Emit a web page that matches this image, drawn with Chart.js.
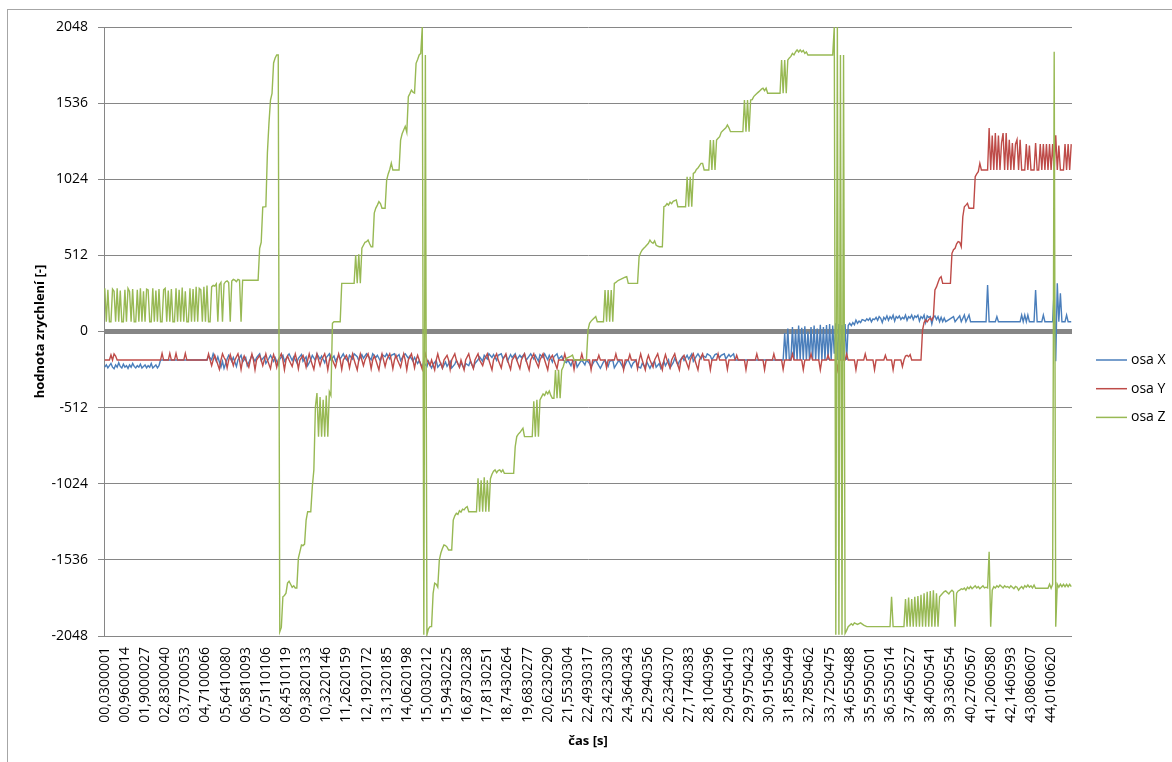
<!DOCTYPE html>
<html>
<head>
    <title>osa X / Y / Z</title>
    <style>
        body { margin: 0; background: #fff; overflow: hidden; }
        .frame { position: absolute; left: 7px; top: 9px; width: 1300px; height: 900px; border: 1px solid #a6a6a6; }
        #accChart { position: absolute; left: 0; top: 0; }
    </style>
</head>
<body>
    <div class="frame"></div>
    <canvas id="accChart" width="1172" height="762"></canvas>

    <script src="https://cdn.jsdelivr.net/npm/chart.js"></script>
    <script>
        // printed category labels (every 13th sample)
        var tickLabels = ['00,0300001','00,9600014','01,9000027','02,8300040','03,7700053','04,7100066','05,6410080','06,5810093',
            '07,5110106','08,4510119','09,3820133','10,3220146','11,2620159','12,1920172','13,1320185','14,0620198',
            '15,0030212','15,9430225','16,8730238','17,8130251','18,7430264','19,6830277','20,6230290','21,5530304',
            '22,4930317','23,4230330','24,3640343','25,2940356','26,2340370','27,1740383','28,1040396','29,0450410',
            '29,9750423','30,9150436','31,8550449','32,7850462','33,7250475','34,6550488','35,5950501','36,5350514',
            '37,4650527','38,4050541','39,3360554','40,2760567','41,2060580','42,1460593','43,0860607','44,0160620'];
        var labelStep = 13;
        var sampleCount = 625;
        var seriesNames = ['osa X', 'osa Y', 'osa Z'];

        // [sample index, value]
        var osaX = [[0,-240],[1,-225],[2,-245],[3,-230],[4,-215],[5,-240],[6,-250],[7,-225],[8,-240],[9,-210],[10,-235],[11,-245],
            [12,-220],[13,-240],[14,-230],[15,-248],[16,-225],[17,-240],[18,-215],[19,-235],[20,-245],[21,-230],[22,-240],[23,-220],
            [24,-245],[25,-235],[26,-225],[27,-245],[28,-230],[29,-240],[30,-215],[31,-245],[32,-235],[33,-225],[34,-245],[35,-230],
            [36,-192],[66,-192],[67,-165],[69,-190],[70,-150],[72,-200],[73,-170],[75,-240],[76,-200],[77,-248],[79,-185],[80,-160],
            [82,-200],[83,-175],[85,-235],[86,-190],[88,-160],[89,-205],[91,-175],[92,-230],[94,-185],[95,-160],[97,-200],[98,-175],
            [100,-150],[101,-195],[103,-170],[104,-215],[106,-180],[107,-160],[109,-200],[110,-175],[112,-225],[113,-185],[115,-160],
            [116,-200],[118,-165],[119,-150],[121,-195],[122,-170],[124,-210],[125,-180],[127,-155],[128,-200],[130,-170],[131,-230],
            [133,-190],[134,-160],[136,-195],[137,-150],[139,-185],[140,-165],[142,-210],[143,-175],[145,-150],[146,-190],[148,-165],
            [149,-200],[151,-160],[152,-185],[154,-150],[155,-175],[157,-200],[158,-160],[160,-185],[161,-150],[163,-170],[164,-195],
            [166,-155],[167,-180],[169,-150],[170,-165],[172,-190],[173,-150],[175,-175],[176,-160],[178,-200],[179,-155],[181,-170],
            [182,-150],[184,-185],[185,-160],[187,-150],[188,-175],[190,-155],[191,-195],[193,-160],[194,-150],[196,-180],[197,-165],
            [199,-200],[200,-175],[202,-215],[203,-195],[205,-240],[206,-210],[208,-235],[209,-200],[211,-245],[212,-220],[214,-195],
            [215,-240],[217,-215],[218,-248],[220,-205],[221,-235],[223,-200],[224,-245],[226,-220],[227,-195],[229,-240],[230,-210],
            [232,-248],[233,-215],[235,-230],[236,-200],[238,-245],[239,-215],[241,-190],[242,-170],[244,-200],[245,-160],[247,-185],
            [248,-150],[250,-175],[251,-155],[253,-195],[254,-160],[256,-150],[257,-180],[259,-160],[260,-200],[262,-155],[263,-175],
            [265,-150],[266,-190],[268,-160],[269,-175],[271,-150],[272,-195],[274,-165],[275,-150],[277,-185],[278,-160],[280,-200],
            [281,-155],[283,-175],[284,-150],[286,-190],[287,-160],[289,-205],[290,-170],[292,-150],[293,-185],[295,-165],[296,-192],
            [298,-210],[299,-192],[301,-230],[302,-200],[304,-192],[305,-240],[307,-205],[308,-192],[310,-225],[311,-192],[313,-215],
            [314,-240],[316,-200],[317,-192],[319,-230],[320,-248],[322,-205],[323,-192],[325,-235],[326,-200],[328,-192],[329,-245],
            [331,-210],[332,-192],[334,-230],[335,-248],[337,-200],[338,-192],[340,-240],[341,-215],[343,-192],[344,-235],[346,-245],
            [347,-215],[349,-240],[350,-205],[352,-248],[353,-225],[355,-200],[356,-240],[358,-215],[359,-248],[361,-200],[362,-230],
            [364,-190],[365,-245],[367,-210],[368,-180],[370,-225],[371,-200],[373,-170],[374,-195],[376,-160],[377,-185],[379,-150],
            [380,-200],[382,-165],[383,-150],[385,-185],[386,-160],[388,-175],[389,-150],[391,-165],[392,-190],[394,-155],[395,-150],
            [397,-175],[398,-160],[400,-150],[401,-185],[403,-155],[404,-170],[406,-150],[407,-192],[438,-192],
            [439,-10],[440,-192],[441,20],[442,-192],[443,-192],[444,30],[445,-192],[446,10],[447,-192],[448,40],[449,-192],[450,25],
            [451,-192],[452,35],[453,-192],[454,0],[455,-192],[456,30],[457,-192],[458,40],[459,-192],[460,20],[461,-192],[462,45],
            [463,-192],[464,30],[465,-192],[466,44],[467,-192],[468,50],[469,-192],[470,40],[471,-150],[472,55],[473,-192],[474,50],
            [475,-192],[476,44],[477,-192],[478,50],[479,-192],[480,40],[481,55],[482,40],[483,60],[484,45],[485,77],[486,55],[487,70],
            [488,60],[489,80],[490,77],[491,70],[492,85],[493,75],[494,90],[495,65],[496,85],[497,80],[498,95],[499,75],[500,100],
            [501,89],[502,60],[503,95],[504,80],[505,105],[506,75],[507,100],[508,85],[509,110],[510,70],[511,100],[512,90],[513,105],
            [514,80],[515,95],[516,85],[517,110],[518,75],[519,100],[520,90],[521,111],[522,80],[523,105],[524,95],[525,110],[526,70],
            [527,100],[528,88],[529,111],[530,60],[531,105],[532,95],[533,100],[534,50],[535,95],[536,105],[537,80],[538,100],[539,66],
            [540,95],[541,66],[542,90],[543,66],[548,100],[549,66],[552,105],[553,66],[555,111],[556,66],[558,111],[559,66],[569,66],
            [570,313],[571,66],[575,66],[576,100],[577,66],[591,66],[592,111],[593,66],[594,111],[595,66],[596,111],[597,66],[600,66],
            [601,279],[602,66],[605,66],[606,111],[607,66],[612,66],[613,290],[614,-200],[615,324],[616,66],[617,257],[618,66],[620,66],
            [621,111],[622,66],[624,66]];

        var osaY = [[0,-192],[3,-192],[4,-158],[5,-192],[6,-150],[7,-165],[8,-192],[36,-192],[37,-147],[38,-192],[41,-192],[42,-147],
            [43,-192],[45,-192],[46,-147],[47,-192],[51,-192],[52,-147],[53,-192],[66,-192],
            [67,-150],[68,-192],[69,-230],[70,-192],[71,-160],[72,-192],[74,-255],[75,-192],[76,-150],[77,-175],[78,-192],[79,-245],
            [80,-192],[81,-155],[82,-192],[83,-230],[84,-192],[86,-150],[87,-192],[88,-255],[89,-192],[90,-165],[91,-192],[93,-240],
            [94,-192],[95,-150],[96,-192],[97,-258],[98,-192],[100,-160],[101,-192],[102,-230],[103,-192],[104,-150],[105,-192],
            [107,-250],[108,-192],[109,-155],[110,-192],[111,-240],[112,-192],[114,-150],[115,-192],[116,-258],[117,-192],[118,-165],
            [119,-192],[121,-235],[122,-192],[123,-150],[124,-192],[125,-250],[126,-192],[128,-160],[129,-192],[130,-240],[131,-192],
            [132,-150],[133,-192],[135,-255],[136,-192],[137,-150],[138,-192],[139,-230],[140,-192],[142,-150],[143,-192],[144,-258],
            [145,-192],[146,-160],[147,-192],[149,-240],[150,-192],[151,-150],[152,-192],[153,-255],[154,-192],[156,-160],[157,-192],
            [158,-245],[159,-192],[160,-150],[161,-192],[163,-258],[164,-192],[165,-150],[166,-192],[167,-230],[168,-192],[170,-150],
            [171,-192],[172,-250],[173,-192],[174,-165],[175,-192],[177,-258],[178,-192],[179,-150],[180,-192],[181,-235],[182,-192],
            [184,-150],[185,-192],[186,-250],[187,-192],[188,-160],[189,-192],[191,-240],[192,-192],[193,-150],[194,-192],[195,-258],
            [196,-192],[198,-150],[199,-192],[200,-245],[201,-192],[202,-160],[203,-192],[205,-255],[206,-192],[207,-150],[208,-192],
            [210,-230],[211,-192],[213,-258],[214,-192],[215,-150],[216,-192],[218,-245],[219,-192],[221,-160],[222,-192],[223,-255],
            [224,-192],[226,-150],[227,-192],[229,-240],[230,-192],[232,-258],[233,-192],[235,-150],[236,-192],[238,-250],[239,-192],
            [241,-150],[242,-192],[244,-230],[245,-192],[247,-150],[248,-192],[250,-258],[251,-192],[253,-150],[254,-192],[256,-245],
            [257,-192],[259,-150],[260,-192],[262,-255],[263,-192],[265,-160],[266,-192],[268,-250],[269,-192],[271,-150],[272,-192],
            [274,-258],[275,-192],[277,-150],[278,-192],[280,-240],[281,-192],[283,-150],[284,-192],[286,-258],[287,-192],[289,-160],
            [290,-192],[292,-250],[293,-192],[296,-192],[297,-150],[298,-192],[302,-192],[303,-255],[304,-192],[307,-192],[308,-150],
            [309,-192],[313,-192],[314,-258],[315,-192],[318,-192],[319,-160],[320,-192],[323,-192],[324,-245],[325,-192],[329,-192],
            [330,-150],[331,-192],[334,-192],[335,-258],[336,-192],[338,-192],[339,-155],[340,-192],[343,-192],[344,-250],[345,-192],
            [346,-150],[347,-192],[349,-258],[350,-192],[351,-160],[352,-192],[354,-240],[355,-192],[357,-150],[358,-192],[360,-258],
            [361,-192],[362,-155],[363,-192],[365,-245],[366,-192],[368,-150],[369,-192],[371,-258],[372,-192],[374,-160],[375,-192],
            [377,-250],[378,-192],[380,-150],[381,-192],[383,-258],[384,-192],[386,-150],[387,-192],[390,-192],[391,-258],[392,-192],
            [395,-192],[396,-150],[397,-192],[401,-192],[402,-255],[403,-192],[407,-192],[408,-160],[409,-192],[413,-192],[414,-258],
            [415,-192],[420,-192],[421,-150],[422,-192],[425,-192],[426,-258],[427,-192],[431,-192],[432,-150],[433,-192],[437,-192],
            [438,-255],[439,-192],[443,-192],[444,-150],[445,-192],[450,-192],[451,-258],[452,-192],[455,-192],[456,-150],[457,-192],
            [461,-192],[462,-258],[463,-192],[466,-192],[467,-160],[468,-192],[472,-192],[473,-258],[474,-192],[478,-192],[479,-150],
            [480,-192],[484,-192],[485,-258],[486,-192],[490,-192],[491,-150],[492,-192],[496,-192],[497,-258],[498,-192],[503,-192],
            [504,-160],[505,-192],[508,-192],[509,-258],[510,-192],[514,-192],[515,-237],[516,-192],[517,-165],[518,-160],[519,-170],
            [520,-155],[521,-192],[527,-192],[528,10],[529,60],[530,77],[531,65],[532,80],[533,90],[534,75],[535,100],[536,279],
            [537,300],[538,330],[539,358],[540,369],[541,324],[546,324],[547,526],[548,550],[549,560],[550,590],[551,604],[552,600],
            [553,570],[554,772],[555,839],[556,850],[557,862],[558,829],[561,829],[562,1041],[563,1060],[564,1075],[565,1131],
            [566,1086],[570,1086],[571,1368],[572,1086],[573,1318],[574,1086],[575,1335],[576,1086],[577,1318],[578,1086],[579,1268],
            [580,1335],[581,1086],[582,1335],[583,1086],[584,1290],[585,1086],[586,1268],[587,1086],[588,1260],[589,1290],[590,1086],
            [591,1290],[592,1086],[594,1086],[595,1260],[596,1086],[597,1250],[598,1086],[600,1086],[601,1268],[602,1086],[603,1086],
            [604,1260],[605,1086],[606,1260],[607,1086],[608,1260],[609,1086],[610,1260],[611,1086],[612,1260],[613,1086],[614,1320],
            [615,1086],[616,1250],[617,1086],[619,1086],[620,1260],[621,1086],[622,1260],[623,1086],[624,1260]];

        var osaZ = [[0,290],[1,66],[2,280],[3,66],[4,66],[5,285],[6,270],[7,66],[8,290],[9,66],[10,275],[11,66],[12,66],[13,280],
            [14,66],[15,290],[16,270],[17,66],[18,285],[19,66],[20,66],[21,280],[22,66],[23,290],[24,66],[25,270],[26,66],[27,285],
            [28,280],[29,66],[30,66],[31,290],[32,66],[33,275],[34,66],[35,285],[36,66],[37,66],[38,280],[39,290],[40,66],[41,275],
            [42,66],[43,285],[44,66],[45,66],[46,290],[47,66],[48,280],[49,66],[50,295],[51,66],[52,270],[53,66],[54,66],[55,290],
            [56,66],[57,285],[58,66],[59,300],[60,66],[61,290],[62,280],[63,66],[64,300],[65,66],[66,310],[67,66],[68,66],[69,300],
            [70,310],[71,305],[72,320],[73,66],[74,315],[75,330],[76,66],[77,320],[78,335],[79,340],[80,330],[81,66],[82,340],[83,350],
            [84,345],[85,335],[86,350],[87,345],[88,66],[89,345],[99,345],[100,560],[101,600],[102,837],[104,840],[105,1200],[106,1400],
            [107,1557],[108,1602],[109,1806],[110,1840],[111,1860],[112,1860],[113,-2019],[114,-1990],[115,-1784],[116,-1775],
            [117,-1760],[118,-1692],[119,-1680],[120,-1700],[121,-1720],[122,-1710],[123,-1725],[124,-1725],[125,-1524],[126,-1480],
            [127,-1436],[128,-1440],[129,-1430],[130,-1268],[131,-1212],[133,-1212],[134,-1044],[135,-931],[136,-506],[137,-414],
            [138,-707],[139,-440],[140,-707],[141,-460],[142,-707],[143,-430],[144,-707],[145,-405],[146,-430],[147,55],[148,66],
            [152,66],[153,324],[161,324],[162,514],[163,324],[164,520],[165,324],[166,560],[167,580],[168,600],[169,604],[170,615],
            [171,590],[172,570],[173,570],[174,797],[175,830],[176,850],[177,873],[178,860],[179,829],[181,829],[182,1019],[183,1060],
            [184,1090],[185,1133],[186,1086],[190,1086],[191,1288],[192,1330],[193,1355],[194,1380],[195,1340],[196,1579],[197,1600],
            [198,1624],[199,1610],[200,1604],[201,1804],[202,1830],[203,1860],[204,1870],[205,2048],[206,-2040],[207,1860],[208,-2040],
            [209,-2000],[210,-1985],[211,-1985],[212,-1761],[213,-1693],[214,-1700],[215,-1720],[216,-1537],[217,-1490],[218,-1460],
            [219,-1436],[220,-1440],[221,-1450],[222,-1470],[224,-1470],[225,-1268],[226,-1240],[227,-1223],[228,-1230],[229,-1205],
            [230,-1215],[231,-1195],[232,-1200],[233,-1185],[234,-1178],[235,-1212],[240,-1212],[241,-987],[242,-1212],[243,-1000],
            [244,-1212],[245,-980],[246,-1212],[247,-1000],[248,-1212],[249,-990],[250,-960],[251,-940],[252,-931],[253,-950],
            [254,-935],[255,-931],[256,-945],[257,-931],[258,-954],[264,-954],[265,-775],[266,-707],[267,-690],[268,-680],[269,-665],
            [270,-651],[271,-707],[276,-707],[277,-470],[278,-707],[279,-460],[280,-707],[281,-460],[282,-440],[283,-420],[284,-430],
            [285,-405],[286,-420],[287,-400],[288,-430],[289,-449],[290,-449],[291,-260],[292,-449],[293,-258],[294,-449],[295,-260],
            [296,-237],[297,-200],[298,-180],[299,-175],[300,-170],[301,-165],[302,-158],[303,-192],[311,-192],[312,10],[313,55],
            [314,70],[315,80],[316,90],[317,100],[318,66],[322,66],[323,279],[324,66],[325,279],[326,66],[327,279],[328,66],[329,324],
            [330,330],[331,340],[332,346],[333,350],[334,355],[335,360],[336,365],[337,369],[338,324],[344,324],[345,503],[346,530],
            [347,548],[348,560],[349,570],[350,582],[351,593],[352,615],[353,600],[354,593],[355,610],[356,580],[357,575],[358,570],
            [360,570],[361,839],[362,845],[363,860],[364,850],[365,870],[366,860],[367,875],[368,880],[369,884],[370,839],[375,839],
            [376,1041],[377,839],[378,1041],[379,839],[380,1064],[381,1070],[382,1090],[383,1100],[384,1115],[385,1131],[386,1131],
            [387,1086],[390,1086],[391,1288],[392,1086],[393,1288],[394,1086],[395,1288],[396,1300],[397,1310],[398,1340],[399,1350],
            [400,1360],[401,1370],[402,1389],[403,1370],[404,1344],[412,1344],[413,1557],[414,1344],[415,1557],[416,1344],[417,1557],
            [418,1560],[419,1580],[420,1590],[421,1600],[422,1610],[423,1620],[424,1630],[425,1636],[426,1620],[427,1636],[428,1602],
            [436,1602],[437,1826],[438,1602],[439,1826],[440,1602],[441,1826],[442,1840],[443,1850],[444,1870],[445,1860],[446,1880],
            [447,1894],[448,1880],[449,1894],[450,1880],[451,1890],[452,1870],[453,1880],[454,1860],[470,1860],[471,2048],[472,-2040],
            [473,2048],[474,-2040],[475,1860],[476,-2040],[477,1860],[478,-2030],[479,-2010],[480,-1985],[481,-1975],[482,-1965],
            [483,-1975],[484,-1960],[486,-1970],[488,-1960],[490,-1975],[492,-1985],[507,-1985],[508,-1784],[509,-1985],[516,-1985],
            [517,-1800],[518,-1985],[519,-1790],[520,-1985],[521,-1800],[522,-1985],[523,-1785],[524,-1985],[525,-1780],[526,-1985],
            [527,-1770],[528,-1985],[529,-1760],[530,-1985],[531,-1750],[532,-1985],[533,-1745],[534,-1985],[535,-1740],[536,-1985],
            [537,-1760],[538,-1985],[539,-1784],[540,-1772],[541,-1760],[542,-1750],[543,-1745],[544,-1755],[545,-1765],[546,-1750],
            [547,-1740],[548,-1750],[549,-1985],[550,-1760],[551,-1745],[552,-1740],[553,-1730],[554,-1735],[555,-1725],[556,-1740],
            [557,-1720],[558,-1730],[559,-1715],[560,-1730],[561,-1720],[562,-1710],[563,-1725],[564,-1715],[565,-1730],[566,-1720],
            [567,-1710],[568,-1725],[569,-1720],[570,-1725],[571,-1481],[572,-1985],[573,-1740],[574,-1716],[575,-1725],[576,-1710],
            [577,-1720],[578,-1705],[579,-1715],[580,-1725],[581,-1710],[582,-1720],[583,-1715],[584,-1725],[585,-1710],[586,-1720],
            [587,-1730],[588,-1715],[589,-1720],[590,-1740],[591,-1725],[592,-1715],[593,-1730],[594,-1710],[595,-1720],[596,-1705],
            [597,-1720],[598,-1710],[599,-1725],[600,-1705],[601,-1727],[609,-1727],[610,-1700],[611,-1727],[612,-1700],[613,1882],
            [614,-1985],[615,-1700],[616,-1720],[617,-1700],[618,-1716],[619,-1700],[620,-1716],[621,-1700],[622,-1716],[623,-1700],
            [624,-1716]];

        var seriesColors = ['#4a7ebb', '#be4b48', '#98b954'];

        function toPoints(arr) {
            return arr.map(function (p) { return { x: p[0], y: p[1] }; });
        }

        Chart.defaults.font.family = "'Open Sans', sans-serif";
        Chart.defaults.color = '#000';

        // simple legend on the right, Excel style
        var sideLegend = {
            id: 'sideLegend',
            afterDraw: function (chart) {
                var ctx = chart.ctx;
                ctx.save();
                ctx.font = "14px 'Open Sans', sans-serif";
                ctx.textBaseline = 'middle';
                ctx.fillStyle = '#000';
                chart.data.datasets.forEach(function (ds, i) {
                    var y = 360 + i * 28.7;
                    ctx.strokeStyle = ds.borderColor;
                    ctx.lineWidth = 1.5;
                    ctx.beginPath();
                    ctx.moveTo(1096, y);
                    ctx.lineTo(1127, y);
                    ctx.stroke();
                    ctx.fillText(ds.label, 1131, y);
                });
                ctx.restore();
            }
        };

        var series = [osaX, osaY, osaZ];
        var ctx = document.getElementById('accChart').getContext('2d');
        var accChart = new Chart(ctx, {
            type: 'line',
            data: {
                datasets: series.map(function (s, i) {
                    return {
                        label: seriesNames[i],
                        data: toPoints(s),
                        borderColor: seriesColors[i],
                        borderWidth: 1.4,
                        pointRadius: 0,
                        tension: 0,
                        fill: false,
                        order: 2 - i
                    };
                })
            },
            options: {
                responsive: false,
                animation: false,
                layout: { padding: { top: 27, right: 100, left: 0, bottom: 0 } },
                plugins: { legend: { display: false }, tooltip: { enabled: false } },
                scales: {
                    x: {
                        type: 'linear',
                        min: -0.5,
                        max: sampleCount - 0.5,
                        afterBuildTicks: function (scale) {
                            scale.ticks = tickLabels.map(function (t, i) { return { value: i * labelStep }; });
                        },
                        afterFit: function (scale) { scale.height = 126; },
                        ticks: {
                            autoSkip: false,
                            minRotation: 90,
                            maxRotation: 90,
                            padding: 11,
                            font: { size: 14 },
                            callback: function (value) { return tickLabels[Math.round(value / labelStep)]; }
                        },
                        grid: { display: false, drawTicks: false },
                        border: { display: false },
                        title: {
                            display: true,
                            text: 'čas [s]',
                            font: { size: 13, weight: 'bold' },
                            padding: { top: 0, bottom: 13 }
                        }
                    },
                    y: {
                        min: -2048,
                        max: 2048,
                        afterFit: function (scale) { scale.width = 104; },
                        ticks: {
                            stepSize: 512,
                            padding: 10,
                            font: { size: 14 },
                            callback: function (value) { return String(value); }
                        },
                        grid: {
                            color: '#868686',
                            lineWidth: function (c) { return c.tick && c.tick.value === 0 ? 5 : 1; },
                            tickLength: 6,
                            tickWidth: 1,
                            tickColor: '#868686'
                        },
                        border: { display: true, color: '#868686', width: 1 },
                        title: {
                            display: true,
                            text: 'hodnota zrychlení [-]',
                            font: { size: 13, weight: 'bold' },
                            padding: { top: 32, bottom: 0 }
                        }
                    }
                }
            },
            plugins: [sideLegend]
        });
    </script>
</body>
</html>
